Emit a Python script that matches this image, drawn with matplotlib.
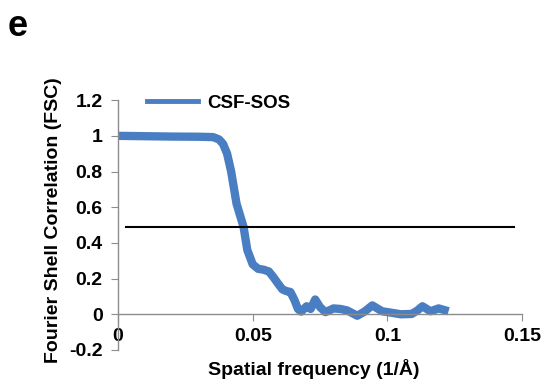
import numpy as np
import matplotlib.pyplot as plt
from matplotlib.lines import Line2D

plt.rcParams['font.family'] = ['Liberation Sans', 'DejaVu Sans']
plt.rcParams['font.weight'] = 'bold'

# FSC curve read along spatial frequency (1/A)
freq = [0.0, 0.010, 0.020, 0.030, 0.0353, 0.0375, 0.039, 0.0405, 0.042, 0.044,
        0.0466, 0.048, 0.050, 0.052, 0.054, 0.056, 0.0576, 0.0595, 0.061, 0.0625,
        0.064, 0.0655, 0.0668, 0.068, 0.070, 0.0715, 0.0732, 0.075, 0.077, 0.080,
        0.0825, 0.085, 0.0888, 0.0915, 0.0944, 0.098, 0.101, 0.105, 0.109, 0.111,
        0.113, 0.116, 0.119, 0.1227]
fsc = [1.0, 0.998, 0.996, 0.995, 0.993, 0.98, 0.955, 0.9, 0.80, 0.62,
       0.49, 0.36, 0.28, 0.255, 0.25, 0.24, 0.21, 0.17, 0.14, 0.13,
       0.125, 0.08, 0.03, 0.015, 0.045, 0.03, 0.083, 0.04, 0.012, 0.033,
       0.03, 0.022, -0.008, 0.015, 0.05, 0.017, 0.01, 0.0, 0.002, 0.02,
       0.045, 0.017, 0.033, 0.017]
cutoff = 0.49
cutoff_span = [0.003, 0.147]

fig = plt.figure(figsize=(5.45, 3.82), dpi=100)
ax = fig.add_axes([0.2165, 0.0838, 0.7415, 0.654])

ax.plot(freq, fsc, color='#4a7ec2', lw=6, solid_joinstyle='round',
        solid_capstyle='butt')
ax.plot(cutoff_span, [cutoff, cutoff], color='black', lw=1.5)

ax.set_xlim(0, 0.15)
ax.set_ylim(-0.2, 1.2)
ax.set_xticks([0, 0.05, 0.1, 0.15])
ax.set_xticklabels(['0', '0.05', '0.1', '0.15'])
ax.set_yticks([-0.2, 0, 0.2, 0.4, 0.6, 0.8, 1, 1.2])
ax.set_yticklabels(['-0.2', '0', '0.2', '0.4', '0.6', '0.8', '1', '1.2'])

for s in ['top', 'right']:
    ax.spines[s].set_visible(False)
for s in ['left', 'bottom']:
    ax.spines[s].set_color('#8c8c8c')
    ax.spines[s].set_linewidth(1.0)
ax.spines['bottom'].set_position(('data', 0))
ax.tick_params(colors='#8c8c8c', labelcolor='black', labelsize=14, length=5)
ax.tick_params(axis='x', pad=5)
ax.tick_params(axis='y', pad=6)

fig.text(314 / 545, 1 - 375 / 382, 'Spatial frequency (1/\u00c5)', ha='center',
         va='baseline', fontsize=14, fontweight='bold')
fig.text(54 / 545, 1 - 220 / 382, 'Fourier Shell Correlation (FSC)', ha='center',
         va='center', rotation=90, fontsize=14, fontweight='bold')
fig.text(18 / 545, 1 - 26 / 382, 'e', ha='center', va='center', fontsize=26,
         fontweight='bold')

handle = Line2D([], [], color='#4a7ec2', lw=3.5)
ax.legend([handle], ['CSF-SOS'], loc='upper left', bbox_to_anchor=(0.03, 1.09),
          frameon=False, handlelength=2.7, handletextpad=0.5,
          prop={'size': 13.5, 'weight': 'bold'})

fig.savefig('out.png', dpi=100)
